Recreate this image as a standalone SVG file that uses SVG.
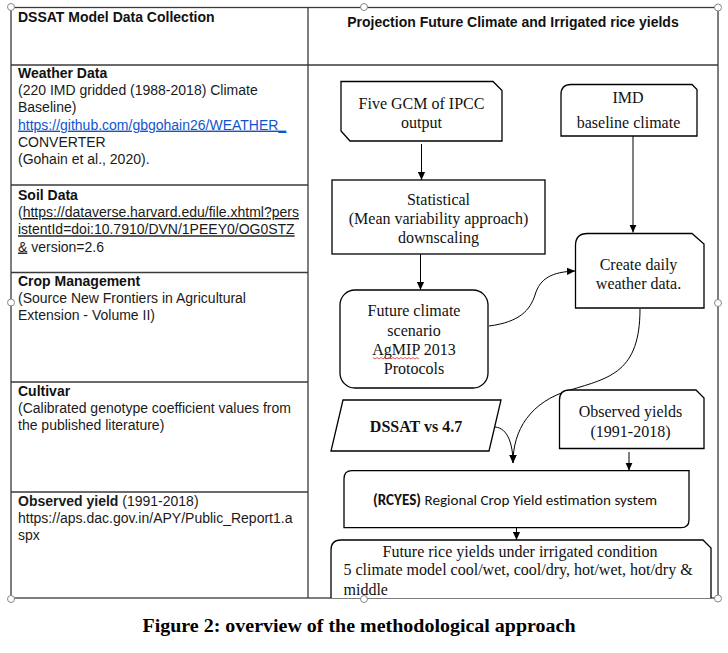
<svg xmlns="http://www.w3.org/2000/svg" width="728" height="653" viewBox="0 0 728 653">
<style>
.tl{fill:none;stroke:#3a3a3a;stroke-width:1.3}
.nd{fill:#fff;stroke:#000;stroke-width:1.3}
.cn{fill:none;stroke:#000;stroke-width:1}
.sa{font-family:"Liberation Sans",Arial,sans-serif;font-size:14px;fill:#1a1a1a}
.sab{font-family:"Liberation Sans",Arial,sans-serif;font-size:14px;font-weight:bold;fill:#111}
.sf{font-family:"Liberation Serif","Times New Roman",serif;font-size:16px;fill:#111;text-anchor:middle}
.hd{fill:#fff;stroke:#888;stroke-width:1}
</style>
<defs>
<marker id="ah" viewBox="0 0 10 10" refX="10" refY="5" markerWidth="8" markerHeight="8" markerUnits="userSpaceOnUse" orient="auto"><path d="M0,0.5 L10,5 L0,9.5 z" fill="#000"/></marker>
<clipPath id="cb"><rect x="0" y="0" width="728" height="597"/></clipPath>
</defs>
<rect width="728" height="653" fill="#fff"/>

<g id="table">
<rect class="tl" x="11" y="7.5" width="707" height="590.5"/>
<line class="tl" x1="308" y1="7.5" x2="308" y2="598"/>
<line class="tl" x1="11" y1="65" x2="718" y2="65"/>
<line class="tl" x1="11" y1="185" x2="308" y2="185"/>
<line class="tl" x1="11" y1="272.5" x2="308" y2="272.5"/>
<line class="tl" x1="11" y1="382" x2="308" y2="382"/>
<line class="tl" x1="11" y1="492" x2="308" y2="492"/>
</g>

<g id="left-text">
<text class="sab" x="18" y="22">DSSAT Model Data Collection</text>
<text class="sab" x="18" y="78">Weather Data</text>
<text class="sa" x="18" y="95.2">(220 IMD gridded (1988-2018) Climate</text>
<text class="sa" x="18" y="112.4">Baseline)</text>
<text class="sa" x="18" y="129.6" style="fill:#1155cc" text-decoration="underline">https://github.com/gbgohain26/WEATHER_</text>
<text class="sa" x="18" y="146.8">CONVERTER</text>
<text class="sa" x="18" y="164">(Gohain et al., 2020).</text>
<text class="sab" x="18" y="199.5">Soil Data</text>
<text class="sa" x="18" y="217">(<tspan text-decoration="underline">https://dataverse.harvard.edu/file.xhtml?pers</tspan></text>
<text class="sa" x="18" y="234.3" text-decoration="underline">istentId=doi:10.7910/DVN/1PEEY0/OG0STZ</text>
<text class="sa" x="18" y="251.5"><tspan text-decoration="underline">&amp;</tspan> version=2.6</text>
<text class="sab" x="18" y="286">Crop Management</text>
<text class="sa" x="18" y="303">(Source New Frontiers in Agricultural</text>
<text class="sa" x="18" y="320">Extension - Volume II)</text>
<text class="sab" x="18" y="396">Cultivar</text>
<text class="sa" x="18" y="413">(Calibrated genotype coefficient values from</text>
<text class="sa" x="18" y="430">the published literature)</text>
<text class="sa" x="18" y="506"><tspan font-weight="bold">Observed yield</tspan> (1991-2018)</text>
<text class="sa" x="18" y="523">https://aps.dac.gov.in/APY/Public_Report1.a</text>
<text class="sa" x="18" y="540">spx</text>
<text class="sab" x="513" y="27" text-anchor="middle">Projection Future Climate and Irrigated rice yields</text>
</g>

<g id="connectors">
<path class="cn" d="M421.5,144 L421.5,180" marker-end="url(#ah)"/>
<path class="cn" d="M633,136 L633,232.5" marker-end="url(#ah)"/>
<path class="cn" d="M420.5,254 L420.5,290" marker-end="url(#ah)"/>
<path class="cn" d="M489,326 C520,322 530,310 535,295 C540,278 552,272 575,271" marker-end="url(#ah)"/>
<path class="cn" d="M640,309 C640,372 610,378 570,390 C530,402 513,430 513,463" marker-end="url(#ah)"/>
<path class="cn" d="M495,427 C508,428 513,445 513,463" marker-end="url(#ah)"/>
<path class="cn" d="M629,452 L629,470.5" marker-end="url(#ah)"/>
<path class="cn" d="M516.5,528 L516.5,540" marker-end="url(#ah)"/>
</g>

<g id="five-gcm">
<path class="nd" d="M341,81.5 L493,81.5 L502,90.5 L502,141 L350,141 L341,131 Z"/>
<text class="sf" x="421.5" y="109" font-size="16.5">Five GCM of IPCC</text>
<text class="sf" x="421.5" y="127.5" font-size="16.5">output</text>
</g>

<g id="imd">
<path class="nd" d="M561,136 L561,94.5 Q561,84.5 571,84.5 L692,84.5 L697,89.5 L697,136 Z"/>
<text class="sf" x="628" y="102.7">IMD</text>
<text class="sf" x="628.5" y="128">baseline climate</text>
</g>

<g id="statistical">
<rect class="nd" x="332" y="180" width="213" height="74"/>
<text class="sf" x="438.5" y="205">Statistical</text>
<text class="sf" x="438.5" y="223.5">(Mean variability approach)</text>
<text class="sf" x="438.5" y="242.5">downscaling</text>
</g>

<g id="future-climate">
<rect class="nd" x="340" y="290" width="148" height="98" rx="15"/>
<text class="sf" x="414" y="316">Future climate</text>
<text class="sf" x="414" y="335.5">scenario</text>
<text class="sf" x="414" y="355">AgMIP 2013</text>
<text class="sf" x="414" y="374">Protocols</text>
<path d="M373,357.5 l2,1.5 l2,-1.5 l2,1.5 l2,-1.5 l2,1.5 l2,-1.5 l2,1.5 l2,-1.5 l2,1.5 l2,-1.5 l2,1.5 l2,-1.5 l2,1.5 l2,-1.5 l2,1.5 l2,-1.5 l2,1.5 l2,-1.5 l2,1.5 l2,-1.5 l2,1.5 l2,-1.5 l2,1.5" fill="none" stroke="#e03030" stroke-width="0.8"/>
</g>

<g id="create-daily">
<path class="nd" d="M575.5,308 L575.5,245.5 Q575.5,233.5 587.5,233.5 L692,233.5 L704,244 L704,308 Z"/>
<text class="sf" x="638.5" y="270">Create daily</text>
<text class="sf" x="638.5" y="288.5">weather data.</text>
</g>

<g id="dssat">
<path class="nd" d="M343,400 L501,400 L489,451 L331,451 Z"/>
<text class="sf" x="416" y="432" font-weight="bold">DSSAT vs 4.7</text>
</g>

<g id="observed-yields">
<path class="nd" d="M559.5,448.5 L559.5,400 Q559.5,390 569.5,390 L696,390 L704,398 L704,448.5 Z"/>
<text class="sf" x="630.5" y="416.7">Observed yields</text>
<text class="sf" x="630.5" y="436.7">(1991-2018)</text>
</g>

<g id="rcyes">
<path class="nd" d="M344,478.7 Q344,470.7 352,470.7 L689,470.7 L689,519.7 Q689,527.7 681,527.7 L344,527.7 Z"/>
<text x="515" y="505" text-anchor="middle" font-family="Carlito,'Open Sans','Liberation Sans',sans-serif" font-size="15" fill="#111" textLength="284" lengthAdjust="spacingAndGlyphs"><tspan font-weight="bold">(RCYES)</tspan> Regional Crop Yield estimation system</text>
</g>

<g id="future-rice">
<path class="nd" d="M331,598 L331,550 Q331,540 341,540 L703,540 L711,548 L711,598"/>
<g clip-path="url(#cb)">
<text class="sf" x="520" y="556.7">Future rice yields under irrigated condition</text>
<text class="sf" x="343.5" y="575" style="text-anchor:start">5 climate model cool/wet, cool/dry, hot/wet, hot/dry &amp;</text>
<text class="sf" x="343.5" y="595" style="text-anchor:start">middle</text>
</g>
</g>

<g id="handles">
<circle class="hd" cx="11" cy="7" r="3.5"/>
<circle class="hd" cx="364" cy="7" r="3.5"/>
<circle class="hd" cx="718" cy="7.5" r="3.5"/>
<circle class="hd" cx="11" cy="302.5" r="3.5"/>
<circle class="hd" cx="718" cy="303" r="3.5"/>
<circle class="hd" cx="11" cy="599" r="3.5"/>
<circle class="hd" cx="364" cy="599" r="3.5"/>
<circle class="hd" cx="718" cy="598.5" r="3.5"/>
</g>

<text x="359" y="632" text-anchor="middle" font-family="'Liberation Serif','Times New Roman',serif" font-size="18" font-weight="bold" fill="#000" textLength="433" lengthAdjust="spacingAndGlyphs">Figure 2: overview of the methodological approach</text>
</svg>
